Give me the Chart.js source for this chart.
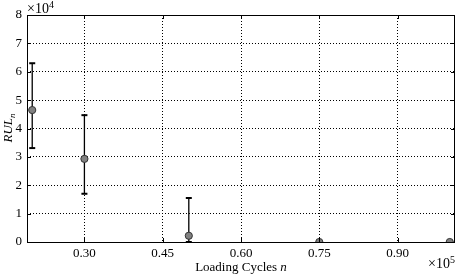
<!DOCTYPE html>
<html>
<head>
<meta charset="utf-8">
<style>
  html, body { margin: 0; padding: 0; background: #fff; }
  canvas { display: block; }
</style>
<script src="https://cdn.jsdelivr.net/npm/chart.js@4/dist/chart.umd.min.js"></script>
</head>
<body>
<canvas id="rul-chart" width="464" height="274"></canvas>
<script>
// loading cycles and predicted remaining useful life
var cycles = [20000, 30000, 50000, 75000, 100000];
var rulMean = [46500, 29300, 2200, 0, 0];
var rulUpper = [63000, 44700, 15500, 0, 0];
var rulLower = [33100, 17000, 0, 0, 0];
var xTicks = [30000, 45000, 60000, 75000, 90000];
var yTicks = [0, 10000, 20000, 30000, 40000, 50000, 60000, 70000, 80000];

var SERIF = "'Liberation Serif', 'Times New Roman', serif";
Chart.defaults.font.family = SERIF;
Chart.defaults.font.size = 13;
Chart.defaults.color = '#000';

// error bars: one line segment per point, broken by nulls
var errData = [];
for (var i = 0; i < cycles.length; i++) {
    if (rulUpper[i] > rulLower[i]) {
        errData.push({x: cycles[i], y: rulLower[i]});
        errData.push({x: cycles[i], y: rulUpper[i]});
        errData.push({x: cycles[i], y: null});
    }
}
var meanData = cycles.map(function (c, i) { return {x: c, y: rulMean[i]}; });

function drawSup(ctx, base, sup, x, y, align) {
    ctx.font = '14px ' + SERIF;
    var w1 = ctx.measureText(base).width;
    ctx.font = '10px ' + SERIF;
    var w2 = ctx.measureText(sup).width;
    var x0 = align === 'right' ? x - w1 - w2 : x;
    ctx.textAlign = 'left';
    ctx.font = '14px ' + SERIF;
    ctx.fillText(base, x0, y);
    ctx.font = '10px ' + SERIF;
    ctx.fillText(sup, x0 + w1, y - 5);
}

var decor = {
    id: 'decor',
    afterDraw: function (chart) {
        var ctx = chart.ctx;
        var a = chart.chartArea;
        var xs = chart.scales.x, ys = chart.scales.y;
        ctx.save();
        // box
        ctx.strokeStyle = '#000';
        ctx.lineWidth = 1;
        ctx.setLineDash([]);
        ctx.strokeRect(a.left + 0.5, a.top + 0.5, a.right - a.left - 1, a.bottom - a.top);
        // inward ticks
        ctx.beginPath();
        xs.ticks.forEach(function (t) {
            var px = Math.round(xs.getPixelForValue(t.value)) + 0.5;
            ctx.moveTo(px, a.bottom); ctx.lineTo(px, a.bottom - 4);
            ctx.moveTo(px, a.top); ctx.lineTo(px, a.top + 4);
        });
        ys.ticks.forEach(function (t) {
            var py = Math.round(ys.getPixelForValue(t.value)) + 0.5;
            ctx.moveTo(a.left, py); ctx.lineTo(a.left + 4, py);
            ctx.moveTo(a.right, py); ctx.lineTo(a.right - 4, py);
        });
        ctx.stroke();

        ctx.fillStyle = '#000';
        ctx.textBaseline = 'alphabetic';
        // multipliers
        drawSup(ctx, '\u00d710', '4', a.left, 13, 'left');
        drawSup(ctx, '\u00d710', '5', a.right, 268, 'right');

        // x title
        ctx.font = '13px ' + SERIF;
        var t1 = 'Loading Cycles ';
        var w1 = ctx.measureText(t1).width;
        ctx.font = 'italic 13px ' + SERIF;
        var w2 = ctx.measureText('n').width;
        var cx = (a.left + a.right) / 2 - (w1 + w2) / 2;
        ctx.textAlign = 'left';
        ctx.font = '13px ' + SERIF;
        ctx.fillText(t1, cx, 271);
        ctx.font = 'italic 13px ' + SERIF;
        ctx.fillText('n', cx + w1, 271);

        // y title
        ctx.translate(12, 128);
        ctx.rotate(-Math.PI / 2);
        ctx.font = 'italic 13px ' + SERIF;
        var r1 = ctx.measureText('RUL').width;
        ctx.font = 'italic 9px ' + SERIF;
        var r2 = ctx.measureText('n').width;
        var sx = -(r1 + r2) / 2;
        ctx.font = 'italic 13px ' + SERIF;
        ctx.fillText('RUL', sx, 0);
        ctx.font = 'italic 9px ' + SERIF;
        ctx.fillText('n', sx + r1, 3);
        ctx.restore();
    }
};

var ctx = document.getElementById('rul-chart').getContext('2d');
var chart = new Chart(ctx, {
    type: 'scatter',
    data: {
        datasets: [{
            // error bars with caps
            data: errData,
            showLine: true,
            spanGaps: false,
            borderColor: '#000',
            borderWidth: 1.3,
            pointStyle: 'line',
            pointRadius: 3,
            pointBorderWidth: 2,
            pointBorderColor: '#000',
            order: 2
        }, {
            data: meanData,
            showLine: false,
            pointStyle: 'circle',
            pointRadius: 3.6,
            pointBackgroundColor: '#808080',
            pointBorderColor: '#333',
            pointBorderWidth: 1,
            clip: 0,
            order: 1
        }]
    },
    options: {
        responsive: false,
        animation: false,
        devicePixelRatio: 1,
        layout: { padding: { top: 15, right: 9, left: 0, bottom: 0 } },
        plugins: { legend: { display: false }, tooltip: { enabled: false } },
        scales: {
            x: {
                type: 'linear',
                min: 19000,
                max: 101000,
                afterBuildTicks: function (s) {
                    s.ticks = xTicks.map(function (v) { return {value: v}; });
                },
                afterFit: function (s) { s.height = 32; },
                ticks: {
                    padding: 4,
                    maxRotation: 0,
                    autoSkip: false,
                    callback: function (v) { return (v / 1e5).toFixed(2); }
                },
                grid: { color: '#000', lineWidth: 1, drawTicks: false, borderDash: [1, 2] },
                border: { display: false, dash: [1, 2] }
            },
            y: {
                min: 0,
                max: 80000,
                afterBuildTicks: function (s) {
                    s.ticks = yTicks.map(function (v) { return {value: v}; });
                },
                afterFit: function (s) { s.width = 27; },
                ticks: {
                    padding: 5,
                    callback: function (v) { return String(v / 1e4); }
                },
                grid: { color: '#000', lineWidth: 1, drawTicks: false, borderDash: [1, 2] },
                border: { display: false, dash: [1, 2] }
            }
        }
    },
    plugins: [decor]
});
</script>
</body>
</html>
